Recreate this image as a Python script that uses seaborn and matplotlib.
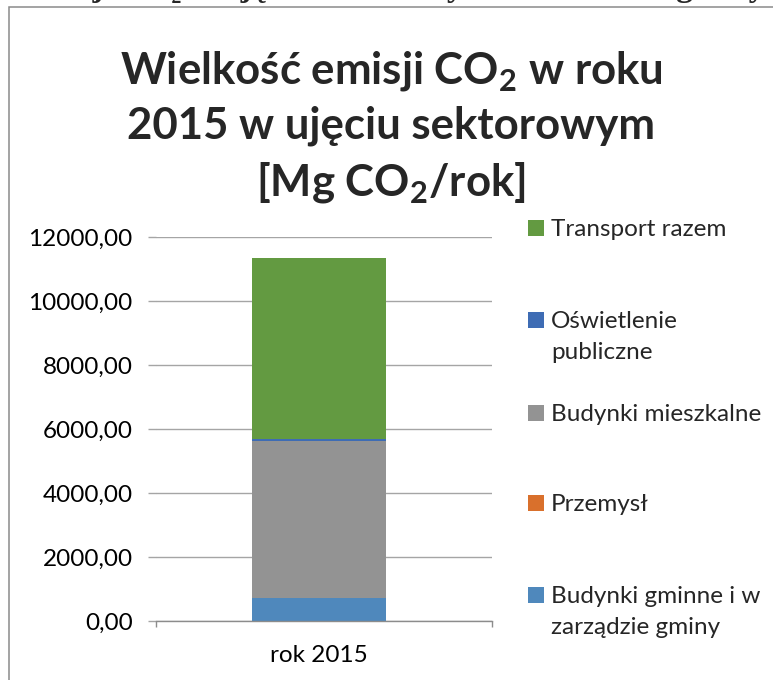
import numpy as np
import matplotlib
matplotlib.use("Agg")
import matplotlib.pyplot as plt
from matplotlib.patches import Rectangle
import seaborn as sns

# dane [Mg CO2/rok]
kategorie = ["rok 2015"]
budynki_gminne = [720.0]
przemysl = [0.0]
budynki_mieszkalne = [4900.0]
oswietlenie = [60.0]
transport = [5660.0]

sektory = ["Budynki gminne i w\nzarządzie gminy", "Przemysł", "Budynki mieszkalne",
           "Oświetlenie\npubliczne", "Transport razem"]
kolory = ["#4F88BC", "#D9702C", "#939393", "#3E6CB4", "#639A41"]
y_ticks = [0, 2000, 4000, 6000, 8000, 10000, 12000]

W, H = 773, 680
FS = 17.5
sns.set_theme(style="white")
plt.rcParams["font.family"] = ["Lato", "DejaVu Sans"]
plt.rcParams["mathtext.fontset"] = "custom"
plt.rcParams["mathtext.rm"] = "Lato"
plt.rcParams["mathtext.bf"] = "Lato:bold"

fig = plt.figure(figsize=(W / 100, H / 100), dpi=100)
ax = fig.add_axes([156 / W, 1 - 621 / H, 336 / W, 384 / H])

# słupek skumulowany
serie = [budynki_gminne, przemysl, budynki_mieszkalne, oswietlenie, transport]
dol = np.zeros(len(kategorie))
for wartosci, kolor in zip(serie, kolory):
    sns.barplot(x=kategorie, y=wartosci, color=kolor, saturation=1, width=0.4,
                bottom=dol, linewidth=0, ax=ax)
    dol = dol + np.array(wartosci)

ax.set_ylim(0, 12000)
ax.set_xlim(-0.485, 0.515)
ax.set_yticks(y_ticks)
ax.set_yticklabels([f"{v:.2f}".replace(".", ",") for v in y_ticks])
ax.yaxis.grid(True, color="#A5A5A5", linewidth=1.0)
ax.set_axisbelow(True)
for s in ["left", "top", "right"]:
    ax.spines[s].set_visible(False)
ax.spines["bottom"].set_color("#8C8C8C")
ax.spines["bottom"].set_linewidth(1.0)
ax.tick_params(axis="y", length=5.8, color="#A5A5A5", width=1, pad=11,
               labelsize=FS, labelcolor="black", left=True)
ax.tick_params(axis="x", which="major", length=0, pad=17, labelsize=FS,
               labelcolor="black")
ax.set_xticks([-0.485, 0.515], minor=True)
ax.tick_params(axis="x", which="minor", length=4.5, color="#8C8C8C", width=1,
               bottom=True)
ax.set_xlabel("")
ax.set_ylabel("")

# tytuł
fig.text(391 / W, 1 - 127 / H,
         "Wielkość emisji CO$_\\mathbf{2}$ w roku\n2015 w ujęciu sektorowym\n[Mg CO$_\\mathbf{2}$/rok]",
         ha="center", va="center", multialignment="center", fontsize=31.5,
         fontweight="bold", linespacing=1.38)

# legenda (kwadrat wyrównany do pierwszej linii opisu)
poz_y = [595, 503, 413, 320, 228]
for etykieta, kolor, yy in zip(sektory, kolory, poz_y):
    fig.add_artist(Rectangle((528 / W, 1 - (yy + 8) / H), 16 / W, 16 / H,
                             transform=fig.transFigure, facecolor=kolor,
                             edgecolor="none"))
    for i, linia in enumerate(etykieta.split("\n")):
        fig.text(551 / W, 1 - (yy + 8 + 31 * i) / H, linia, ha="left",
                 va="baseline", fontsize=FS)

# ramka wykresu i ucięty podpis nad nią
fig.add_artist(Rectangle((9 / W, -0.5), 2, 1.5 - 7 / H, transform=fig.transFigure,
                         fill=False, edgecolor="#8A8A8A", linewidth=1.1))
fig.text(-110 / W, 1 + 4 / H,
         "Wielkość emisji CO₂ w ujęciu sektorowym na obszarze gminy Czarna",
         family=["Liberation Serif", "DejaVu Serif"], fontweight="bold",
         fontsize=24, va="baseline", ha="left")

fig.savefig("out.png", dpi=100)
